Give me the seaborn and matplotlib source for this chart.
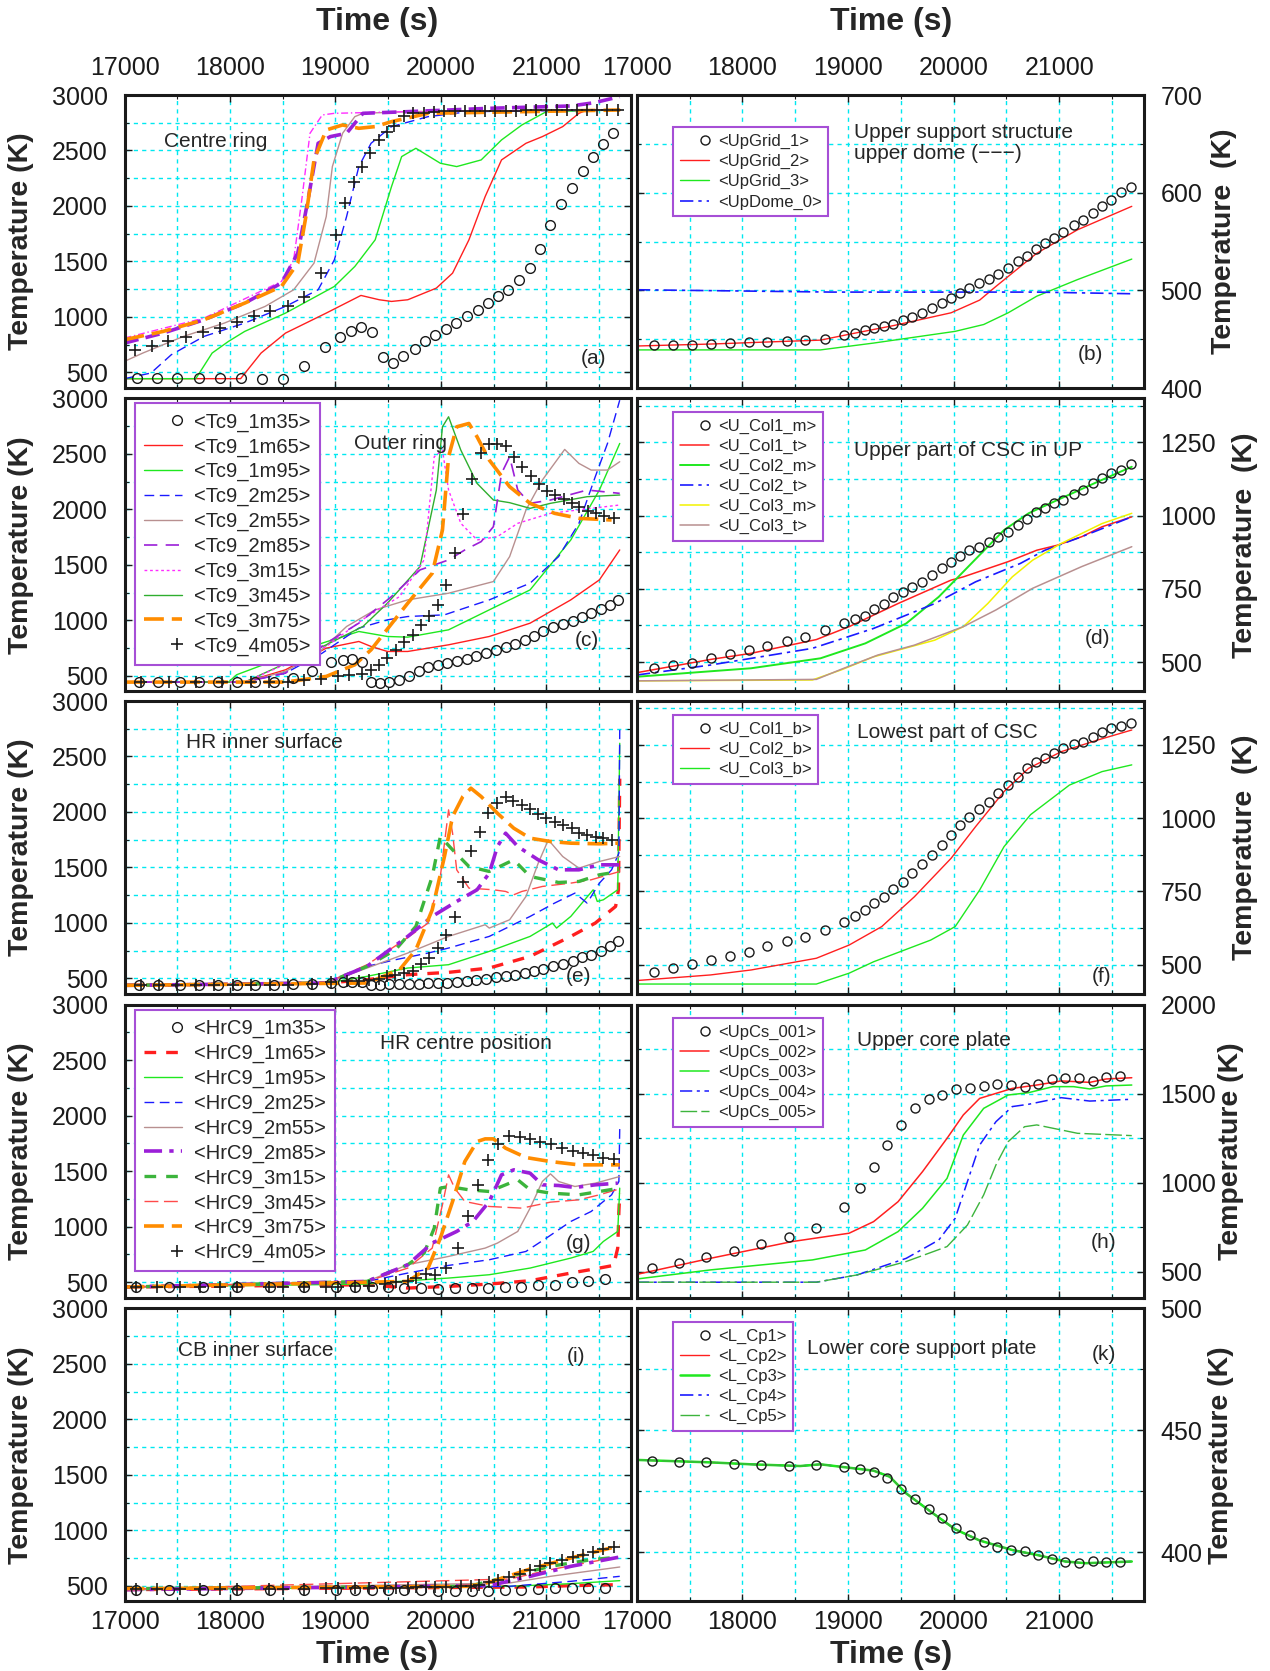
import matplotlib
matplotlib.use("Agg")
import numpy as np
import matplotlib.pyplot as plt
import seaborn as sns
from matplotlib.ticker import MultipleLocator, FixedLocator
from matplotlib.legend_handler import HandlerLine2D

sns.set_theme(style="white")
plt.rcParams['font.family'] = ['Liberation Sans', 'DejaVu Sans']
plt.rcParams['axes.unicode_minus'] = False

# ======================= DATA (time s, temperature K) =======================
XTICKS = [17000, 18000, 19000, 20000, 21000]

# ---- (a) Centre ring ----
a_1m35_t = [17116,17309,17502,17703,17907,18100,18305,18506,18699,18900,19046,19150,19247,19347,19452,19548,19645,19753,19849,19946,20050,20147,20251,20348,20444,20541,20641,20745,20842,20938,21035,21143,21239,21344,21440,21537,21633]
a_1m35_T = [450,450,450,450,450,450,444,444,561,729,819,876,909,861,639,585,651,711,786,840,891,945,1005,1065,1125,1185,1245,1329,1440,1611,1830,2016,2166,2319,2439,2556,2661]
a_1m65_t = [17000,18101,18295,18527,18913,19242,19416,19532,19686,19957,20111,20266,20420,20575,20807,20962,21155,21309,21387,21700]
a_1m65_T = [444,444,675,855,1035,1194,1155,1140,1155,1260,1395,1695,2085,2415,2565,2625,2715,2835,2865,2865]
a_1m95_t = [17000,17676,17831,17986,18140,18527,18990,19184,19377,19532,19628,19763,19995,20150,20382,20575,20768,21000,21700]
a_1m95_T = [444,444,675,780,870,1035,1275,1455,1695,2175,2445,2520,2385,2355,2415,2595,2730,2850,2865]
a_2m25_t = [17000,17251,17444,17754,18140,18527,18836,18990,19106,19222,19338,19532,19879,20266,21700]
a_2m25_T = [444,495,660,825,945,1095,1245,1515,1905,2355,2565,2715,2805,2850,2865]
a_2m55_t = [17000,17174,17560,17947,18333,18604,18797,18913,18971,19068,19184,19261,19686,21700]
a_2m55_T = [600,675,825,945,1095,1245,1485,1905,2355,2655,2805,2835,2850,2865]
a_2m85_t = [17000,17367,17754,18140,18488,18643,18740,18836,18952,19106,19261,19686,20459,21232,21450,21696]
a_2m85_T = [765,855,975,1125,1305,1575,2055,2565,2625,2655,2835,2850,2880,2901,2930,2985]
a_3m15_t = [17000,17754,18488,18604,18681,18759,18875,18990,19686,21700]
a_3m15_T = [810,990,1320,1515,2055,2655,2820,2835,2850,2865]
a_3m75_t = [17000,17367,17754,18140,18488,18643,18720,18797,18913,19068,19222,19377,19532,19879,21700]
a_3m75_T = [795,870,975,1125,1275,1485,1905,2415,2685,2730,2700,2715,2760,2835,2865]
a_4m05_t = [17097,17259,17417,17580,17742,17908,18063,18225,18380,18546,18701,18863,19010,19095,19172,19249,19327,19416,19493,19559,19648,19733,19841,19937,20034,20131,20227,20324,20420,20517,20614,20710,20807,20904,21000,21097,21194,21290,21387,21483,21580,21677]
a_4m05_T = [705,735,780,819,861,900,951,1005,1050,1101,1176,1395,1740,2025,2220,2355,2475,2595,2670,2721,2811,2835,2841,2850,2852,2855,2855,2858,2858,2860,2860,2860,2862,2862,2862,2865,2865,2865,2865,2865,2865,2865]

# ---- (b) Upper support structure ----
b_grid1_t = [17162,17340,17522,17703,17881,18063,18237,18422,18596,18778,18960,19068,19157,19249,19338,19427,19520,19609,19698,19791,19887,19976,20061,20150,20239,20332,20421,20517,20606,20691,20780,20865,20954,21039,21136,21224,21317,21406,21495,21588,21677]
b_grid1_T = [444,444,444,445,446,447,447,448,449,450,454,456,459,461,463,466,470,473,477,482,487,492,497,502,507,512,517,523,530,535,542,548,554,560,567,572,579,586,593,601,606]
b_grid2_t = [17000,17696,18469,18739,19010,19435,19976,20247,20401,20788,21174,21688]
b_grid2_T = [443,445,448,449,455,464,477,490,504,538,562,586]
b_grid3_t = [17000,18739,19242,20015,20285,20517,20788,21174,21688]
b_grid3_T = [439,439,446,458,465,477,494,511,532]
b_dome0_t = [17000,18855,20788,21688]
b_dome0_T = [500.6,498.2,498.2,496.5]

# ---- (c) Outer ring ----
c_1m35_t = [17135,17317,17522,17703,17889,18063,18237,18418,18596,18778,18960,19068,19153,19249,19338,19423,19512,19601,19698,19791,19879,19968,20061,20150,20247,20336,20432,20525,20614,20699,20795,20884,20973,21066,21155,21252,21337,21425,21514,21599,21677]
c_1m35_T = [444,444,444,444,444,444,444,444,480,540,621,645,651,621,441,435,441,465,501,546,579,600,615,630,651,675,705,729,759,789,825,861,900,939,969,999,1035,1065,1104,1140,1185]
c_1m65_t = [17000,18140,18527,18913,19222,19338,19493,19686,20073,20459,20846,21232,21503,21696]
c_1m65_T = [444,444,555,750,810,765,720,720,780,855,975,1185,1365,1635]
c_1m95_t = [17000,17986,18063,18527,18875,19222,19493,19686,20073,20459,20846,21232,21503,21696]
c_1m95_T = [444,444,510,675,795,900,855,849,915,1095,1275,1725,2175,2595]
c_2m25_t = [17000,18140,18527,18875,19222,19493,19686,20034,20459,20846,21116,21309,21464,21580,21696]
c_2m25_T = [444,444,525,705,930,1005,1035,1050,1185,1335,1575,1875,2295,2595,2985]
c_2m55_t = [17000,18140,18527,18836,19106,19377,19686,20073,20498,20652,20807,20962,21174,21309,21425,21580,21696]
c_2m55_T = [444,444,540,705,945,1095,1185,1245,1350,1575,1995,2265,2541,2415,2355,2355,2430]
c_2m85_t = [17000,18140,18527,18913,19222,19532,19802,20073,20227,20382,20498,20575,20652,20729,20846,21039,21387,21696]
c_2m85_T = [444,444,525,795,975,1215,1455,1545,1635,1710,1845,2325,2475,2175,2055,2085,2175,2145]
c_3m15_t = [17000,18140,18913,19300,19609,19841,19937,20015,20073,20189,20343,20536,20729,21039,21425,21696]
c_3m15_T = [444,444,765,1035,1215,1545,2475,2535,2175,1875,1725,1755,1875,1965,2010,2040]
c_3m45_t = [17000,18140,18913,19261,19493,19802,19957,20015,20073,20189,20343,20498,20652,20846,21039,21387,21696]
c_3m45_T = [444,444,780,945,1155,1485,2175,2745,2835,2535,2235,2085,2061,2010,2055,2115,2130]
c_3m75_t = [17000,18527,18913,19184,19338,19686,19918,20015,20073,20150,20266,20343,20459,20652,20846,21078,21309,21619]
c_3m75_T = [444,444,495,600,735,1155,1425,1815,2475,2745,2775,2655,2445,2205,2055,1965,1920,1905]
c_4m05_t = [17155,17425,17676,17928,18198,18372,18546,18701,18863,19029,19133,19249,19338,19416,19493,19570,19648,19733,19810,19887,19976,20053,20131,20208,20297,20382,20459,20536,20614,20691,20768,20853,20931,21008,21078,21163,21240,21309,21394,21472,21549,21638]
c_4m05_T = [444,444,444,444,444,444,444,459,471,495,510,516,549,600,660,735,801,870,960,1041,1140,1320,1605,1959,2271,2511,2586,2586,2571,2469,2379,2301,2229,2169,2130,2091,2055,2019,1989,1965,1941,1920]

# ---- (d) Upper part of CSC in UP ----
d_col1m_t = [17162,17340,17522,17703,17881,18063,18237,18422,18596,18778,18960,19068,19157,19249,19338,19427,19520,19609,19698,19791,19887,19976,20061,20150,20239,20332,20421,20517,20606,20691,20780,20865,20954,21039,21136,21224,21317,21406,21495,21588,21677]
d_col1m_T = [479,490,498,513,526,541,556,573,587,609,632,646,658,681,700,721,740,757,774,797,820,843,863,882,894,911,928,945,968,990,1013,1025,1042,1055,1074,1089,1110,1130,1146,1155,1178]
d_col1t_t = [17000,17696,18082,18700,19010,19474,19976,20092,20517,20788,20981,21213,21406,21688]
d_col1t_T = [464,509,530,577,621,700,780,791,843,882,899,928,962,996]
d_col2m_t = [17000,18082,18739,19164,19551,19860,20169,20478,20710,20981,21367,21688]
d_col2m_T = [450,479,513,564,632,723,837,951,1008,1053,1116,1167]
d_col2t_t = [17000,17696,18662,19242,19822,20208,20633,20865,21213,21688]
d_col2t_T = [456,490,547,615,700,774,837,882,928,996]
d_col3m_t = [17000,18662,18932,19242,19822,20092,20324,20556,20749,21019,21406,21688]
d_col3m_T = [436,439,473,518,575,621,700,791,848,905,973,1008]
d_col3t_t = [17000,18700,18932,19281,19629,20092,20401,20749,21213,21688]
d_col3t_T = [436,441,475,524,558,621,678,752,826,894]

# ---- (e) HR inner surface ----
e_1m35_t = c_1m35_t
e_1m35_T = [438,438,438,438,438,438,438,438,447,453,459,465,465,465,444,444,450,453,453,453,459,459,459,468,474,483,495,513,525,534,549,564,585,609,633,660,690,714,744,789,834]
e_1m65_t = [17000,18913,19300,19686,20073,20459,20846,21232,21464,21657,21684,21696]
e_1m65_T = [438,459,489,534,555,594,699,879,999,1149,1299,2300]
e_1m95_t = [17000,18913,19300,19686,20073,20459,20846,21058,21097,21232,21444,21483,21541,21677,21696]
e_1m95_T = [438,459,519,594,624,744,879,999,954,1059,1299,1194,1209,1299,2619]
e_2m25_t = [17000,18913,19300,19570,19879,20073,20459,20846,21078,21271,21387,21503,21619,21688,21696]
e_2m25_T = [438,465,609,669,729,774,879,1059,1179,1269,1179,1359,1479,1629,2739]
e_2m55_t = [17000,18913,19300,19686,20073,20420,20459,20652,20807,20923,21019,21155,21309,21503,21696]
e_2m55_T = [438,459,594,729,879,984,954,1029,1239,1539,1749,1599,1494,1554,1599]
e_2m85_t = [17000,18913,19300,19686,19918,20150,20343,20459,20536,20614,20729,20923,21116,21309,21503,21696]
e_2m85_T = [438,459,609,879,1059,1194,1299,1449,1689,1809,1689,1569,1479,1479,1524,1524]
e_3m15_t = [17000,18913,19300,19570,19763,19918,19995,20111,20266,20459,20691,20846,21116,21309,21503,21696]
e_3m15_T = [438,459,609,759,969,1419,1779,1659,1509,1464,1569,1419,1365,1374,1434,1464]
e_3m45_t = [17000,18913,19300,19609,19879,19995,20073,20111,20150,20266,20498,20614,20691,20768,20962,21232,21425,21696]
e_3m45_T = [438,459,624,819,999,1419,2019,1809,1479,1314,1299,1284,1254,1284,1329,1359,1389,1464]
e_3m75_t = [17000,19300,19609,19763,19918,20034,20111,20208,20285,20382,20536,20691,20846,21039,21232,21503,21677]
e_3m75_T = [438,459,579,759,1119,1599,1959,2139,2214,2139,1989,1854,1764,1734,1719,1713,1719]
e_4m05_t = [17155,17330,17500,17680,17850,18030,18200,18380,18550,18778,18960,19106,19222,19319,19416,19493,19562,19648,19733,19814,19891,19976,20053,20131,20208,20285,20374,20451,20529,20614,20683,20768,20846,20923,21000,21085,21155,21240,21309,21387,21472,21541,21619]
e_4m05_T = [438,438,438,438,438,438,438,438,438,453,468,474,480,483,495,519,528,549,570,630,684,774,894,1053,1365,1644,1824,1995,2079,2139,2103,2064,2025,1980,1944,1914,1884,1854,1815,1794,1779,1764,1749]

# ---- (f) Lowest part of CSC ----
f_col1b_t = d_col1m_t
f_col1b_T = [476,490,502,516,531,544,564,581,596,618,647,667,687,709,732,757,783,812,844,874,909,943,977,1005,1030,1056,1087,1113,1140,1170,1193,1207,1221,1239,1253,1261,1278,1295,1307,1315,1324]
f_col2b_t = [17000,17696,18082,18700,19010,19319,19629,19976,20208,20478,20710,21019,21367,21688]
f_col2b_T = [446,465,482,522,567,630,732,863,971,1091,1170,1227,1267,1301]
f_col3b_t = [17000,18700,19010,19242,19783,20015,20247,20478,20729,21097,21406,21688]
f_col3b_T = [434,434,471,510,584,630,755,903,1012,1113,1159,1182]

# ---- (g) HR centre position ----
g_1m35_t = [17108,17425,17742,18063,18380,18701,19010,19184,19346,19501,19655,19810,19976,20131,20293,20448,20606,20761,20923,21078,21240,21398,21561]
g_1m35_T = [456,456,456,456,456,456,456,456,456,456,447,447,441,447,447,447,456,456,471,477,501,513,531]
g_1m65_t = [17000,19300,19686,20073,20459,20846,21232,21503,21638,21677,21688,21696]
g_1m65_T = [456,477,447,462,483,513,582,627,651,807,1137,1300]
g_1m95_t = [17000,19300,19686,20073,20459,20846,21232,21444,21541,21677,21696]
g_1m95_T = [456,483,513,537,567,627,717,777,867,957,1347]
g_2m25_t = [17000,19300,19686,20073,20459,20807,21000,21232,21425,21619,21688,21696]
g_2m25_T = [456,507,582,651,702,777,897,1047,1137,1287,1407,1887]
g_2m55_t = [17000,19300,19686,20073,20420,20536,20729,20846,20962,21039,21116,21271,21464,21696]
g_2m55_T = [456,507,657,732,807,852,957,1167,1407,1476,1407,1362,1392,1452]
g_2m85_t = [17000,19300,19686,19918,20150,20304,20459,20575,20691,20846,20962,21116,21271,21464,21677]
g_2m85_T = [456,507,657,852,957,1047,1227,1467,1512,1482,1377,1371,1353,1377,1392]
g_3m15_t = [17000,19300,19686,19841,19937,19995,20073,20266,20459,20614,20729,20846,21039,21309,21503,21696]
g_3m15_T = [456,507,657,762,987,1347,1362,1332,1317,1377,1422,1332,1302,1287,1317,1347]
g_3m45_t = [17000,19300,19686,19918,20015,20073,20131,20227,20459,20768,21039,21309,21503,21696]
g_3m45_T = [456,507,627,807,1197,1467,1347,1227,1182,1167,1221,1242,1287,1341]
g_3m75_t = [17000,19686,19879,19995,20111,20227,20343,20420,20498,20614,20807,21039,21309,21696]
g_3m75_T = [456,507,627,897,1227,1587,1767,1791,1791,1707,1623,1587,1557,1557]
g_4m05_t = [17108,17309,17522,17715,17908,18063,18372,18507,18701,18913,19029,19184,19319,19474,19570,19686,19763,19860,19949,20053,20158,20254,20351,20448,20544,20645,20749,20846,20942,21047,21147,21252,21348,21445,21541,21638]
g_4m05_T = [456,456,456,456,456,456,456,456,456,456,456,462,468,483,498,513,537,573,561,627,807,1092,1377,1602,1743,1821,1812,1791,1767,1743,1713,1686,1668,1647,1623,1608]

# ---- (h) Upper core plate ----
h_cs1_t = [17147,17398,17657,17920,18179,18442,18701,18960,19114,19242,19369,19501,19636,19763,19887,20022,20158,20285,20409,20544,20672,20795,20931,21058,21186,21317,21445,21572]
h_cs1_T = [524,552,586,619,655,694,745,862,969,1091,1212,1325,1418,1469,1493,1527,1534,1544,1553,1549,1536,1553,1581,1587,1587,1572,1596,1600]
h_cs2_t = [17000,17696,18469,19010,19242,19474,19706,19938,20092,20247,20556,20788,21019,21290,21445,21688]
h_cs2_T = [486,576,670,717,782,894,1063,1250,1381,1474,1530,1549,1572,1564,1583,1590]
h_cs3_t = [17000,17696,18662,19164,19474,19706,19938,20092,20285,20517,20710,20942,21136,21290,21445,21688]
h_cs3_T = [460,511,567,623,726,857,1025,1268,1418,1493,1506,1540,1540,1527,1544,1549]
h_cs4_t = [17000,18701,19087,19551,19860,20015,20131,20247,20401,20556,20710,21019,21290,21688]
h_cs4_T = [442,442,483,576,679,801,1007,1212,1343,1428,1441,1478,1459,1469]
h_cs5_t = [17000,18701,19087,19551,19938,20131,20285,20401,20517,20672,20788,21174,21688]
h_cs5_T = [442,442,483,558,642,763,932,1100,1231,1315,1325,1278,1265]

# ---- (i) CB inner surface ----
i_1m35_t = g_1m35_t
i_1m35_T = [465,465,465,462,465,465,462,462,462,462,459,459,456,456,456,456,459,465,471,477,477,477,483]
i_1m65_t = [17000,20846,21232,21696]
i_1m65_T = [465,489,501,510]
i_1m95_t = [17000,20652,21232,21696]
i_1m95_T = [465,495,519,546]
i_2m25_t = [17000,20652,21232,21696]
i_2m25_T = [465,495,540,585]
i_2m55_t = [17000,20652,21039,21696]
i_2m55_T = [465,525,585,669]
i_2m85_t = [17000,20459,20846,21232,21696]
i_2m85_T = [465,501,585,675,759]
i_3m15_t = [17000,20266,20652,21039,21425,21696]
i_3m15_T = [474,495,585,675,735,759]
i_3m45_t = [17000,20652,21039,21503]
i_3m45_T = [468,561,645,729]
i_3m75_t = [17000,20266,20459,20846,21232,21696]
i_3m75_T = [474,495,531,651,750,861]
i_4m05_t = [17108,17309,17522,17715,17908,18063,18372,18507,18701,18913,19029,19184,19319,19474,19570,19686,19763,19860,19949,20053,20189,20285,20363,20459,20544,20645,20749,20846,20942,21039,21147,21252,21348,21445,21541,21638]
i_4m05_T = [474,474,474,474,474,471,471,474,474,477,477,477,480,480,483,483,486,486,489,492,495,501,510,531,549,579,606,639,675,705,735,759,780,804,831,849]

# ---- (k) Lower core support plate ----
k_cp1_t = h_cs1_t
k_cp1_T = [437.6,437.1,436.9,436.1,435.8,435.4,436.0,434.8,434.1,433.1,430.4,426.0,421.8,417.7,414.0,410.2,407.2,404.2,402.4,401.0,400.4,399.0,397.2,396.3,395.6,396.5,396.3,396.3]
k_cpline_t = [17000,17696,18082,18546,18739,18971,19242,19396,19551,19783,20015,20247,20556,20788,21058,21251,21688]
k_cpline_T = [437.9,436.9,436.1,435.4,436.1,434.9,433.5,431.0,424.2,416.7,409.5,404.9,401.0,399.0,396.3,395.6,396.3]

TC_LABELS = ['<Tc9_1m35>','<Tc9_1m65>','<Tc9_1m95>','<Tc9_2m25>','<Tc9_2m55>',
             '<Tc9_2m85>','<Tc9_3m15>','<Tc9_3m45>','<Tc9_3m75>','<Tc9_4m05>']
HR_LABELS = ['<HrC9_1m35>','<HrC9_1m65>','<HrC9_1m95>','<HrC9_2m25>','<HrC9_2m55>',
             '<HrC9_2m85>','<HrC9_3m15>','<HrC9_3m45>','<HrC9_3m75>','<HrC9_4m05>']
KEYS = ['1m35','1m65','1m95','2m25','2m55','2m85','3m15','3m45','3m75','4m05']

# ======================= STYLES =======================
RED = '#ff1f1f'; RED2 = '#ff4a4a'; GREEN = '#1fe81f'; DKGREEN = '#2fae2f'; GREEN2 = '#3cb43c'
BLUE = '#1a1aff'; BROWN = '#b89090'; PURPLE = '#9b1fd8'; MAGENTA = '#ff2cff'
ORANGE = '#ff8c00'; YELLOW = '#f2f200'; GRID = '#00e8f0'; LEGEDGE = '#a64fd6'

CIRC = dict(marker='o', linestyle='none', markersize=7, markerfacecolor='none',
            markeredgecolor='k', markeredgewidth=1.0, color='k', zorder=4)
CIRC_S = dict(CIRC, markersize=6.5)
PLUS = dict(marker='+', linestyle='none', markersize=9, markeredgecolor='k',
            markeredgewidth=1.2, color='k', zorder=4)
ORANGE_STY = dict(color=ORANGE, linewidth=2.6, linestyle=(0, (5.5, 2.2)))

STY_TC = {
    '1m35': CIRC, '1m65': dict(color=RED, linewidth=1.0), '1m95': dict(color=GREEN, linewidth=1.0),
    '2m25': dict(color=BLUE, linewidth=1.0, linestyle=(0, (7, 4))),
    '2m55': dict(color=BROWN, linewidth=1.0),
    '2m85': dict(color=PURPLE, linewidth=1.2, linestyle=(0, (8, 5))),
    '3m15': dict(color=MAGENTA, linewidth=1.0, linestyle=(0, (2, 2))),
    '3m45': dict(color=DKGREEN, linewidth=1.0), '3m75': ORANGE_STY, '4m05': PLUS,
}
STY_A = dict(STY_TC)
STY_A['2m85'] = dict(color=PURPLE, linewidth=2.6, linestyle=(0, (4, 2)))
STY_A['3m15'] = dict(color=MAGENTA, linewidth=1.0, linestyle=(0, (5, 2, 1, 2)))

STY_HR = {
    '1m35': CIRC, '1m65': dict(color=RED, linewidth=2.4, linestyle=(0, (3.5, 3))),
    '1m95': dict(color=GREEN, linewidth=1.0),
    '2m25': dict(color=BLUE, linewidth=1.0, linestyle=(0, (7, 4))),
    '2m55': dict(color=BROWN, linewidth=1.0),
    '2m85': dict(color=PURPLE, linewidth=2.6, linestyle=(0, (5, 2, 1.2, 2))),
    '3m15': dict(color=GREEN2, linewidth=2.4, linestyle=(0, (3.5, 3))),
    '3m45': dict(color=RED2, linewidth=1.0, linestyle=(0, (10, 4))),
    '3m75': ORANGE_STY, '4m05': PLUS,
}
PLOT_ORDER = ['1m65','1m95','2m25','2m55','3m45','3m15','2m85','3m75','1m35','4m05']


class RightMarker(HandlerLine2D):
    """Legend handler placing the single marker near the right end of the handle box."""
    def create_artists(self, legend, orig_handle, xdescent, ydescent, width, height,
                       fontsize, trans):
        arts = super().create_artists(legend, orig_handle, xdescent, ydescent, width,
                                      height, fontsize, trans)
        for a in arts:
            a.set_xdata(np.asarray(a.get_xdata(), dtype=float) + 0.36 * width)
        return arts


# ======================= FIGURE =======================
W, H = 1270, 1671
fig = plt.figure(figsize=(W / 100, H / 100), dpi=100)
fig.patch.set_facecolor('white')

COLS = [(124.5, 630.7), (636.9, 1143.6)]
ROWS = [(95.0, 388.0), (398.5, 691.4), (701.0, 994.0), (1004.7, 1297.7), (1308.3, 1601.3)]


def make_ax(col, row):
    x0, x1 = COLS[col]
    y0, y1 = ROWS[row]
    return fig.add_axes([x0 / W, 1 - y1 / H, (x1 - x0) / W, (y1 - y0) / H])


def draw(ax, t, T, sty, label=None):
    sns.lineplot(x=t, y=T, ax=ax, estimator=None, sort=False, legend=False,
                 label=label, **sty)
    return ax.lines[-1]


def setup(ax, col, row, ylim, ymaj, ystep):
    ax.set_facecolor('white')
    ax.set_xlim(17000, 21800)
    ax.set_ylim(*ylim)
    ax.xaxis.set_major_locator(FixedLocator(XTICKS))
    ax.xaxis.set_minor_locator(MultipleLocator(500))
    ax.yaxis.set_major_locator(FixedLocator(ymaj))
    ax.yaxis.set_minor_locator(MultipleLocator(ystep))
    ax.grid(True, which='both', color=GRID, linestyle=(0, (3, 3)), linewidth=1.0)
    ax.set_axisbelow(True)
    for s in ax.spines.values():
        s.set_visible(True)
        s.set_color('k')
        s.set_linewidth(2.2)
    ax.tick_params(which='both', direction='in', top=True, bottom=True, left=True,
                   right=True, color='k', labelsize=18, labelcolor='k')
    ax.tick_params(which='major', length=5, width=1)
    ax.tick_params(which='minor', length=3, width=0.8)
    ax.tick_params(axis='x', labelbottom=(row == 4), labeltop=(row == 0),
                   pad=(10.5 if row == 0 else 6))
    if col == 0:
        ax.tick_params(axis='y', labelleft=True, labelright=False, pad=12)
    else:
        ax.tick_params(axis='y', labelleft=False, labelright=True, pad=12)
    ax.set_xlabel('')
    ax.set_ylabel('')


def ftext(x, y, s, **kw):
    fig.text(x / W, 1 - y / H, s, **kw)


def add_legend(ax, handles, labels, x0, y0, fs, **kw):
    hmap = {h: RightMarker(numpoints=1) for h in handles
            if h.get_linestyle() in ('None', 'none', '')}
    leg = ax.legend(handles, labels, loc='upper left', bbox_to_anchor=(x0 / W, 1 - y0 / H),
                    bbox_transform=fig.transFigure, borderaxespad=0, fontsize=fs,
                    frameon=True, fancybox=False, framealpha=1, facecolor='white',
                    edgecolor=LEGEDGE, numpoints=1, handler_map=hmap, **kw)
    leg.get_frame().set_linewidth(1.5)
    leg.set_zorder(10)
    return leg


def left_panel(row, data, sty, labels=None, leg_pos=None):
    ax = make_ax(0, row)
    handles = {}
    for k in PLOT_ORDER:
        if k in data:
            t, T = data[k]
            handles[k] = draw(ax, t, T, sty[k], label=k)
    setup(ax, 0, row, (360, 3000), [500, 1000, 1500, 2000, 2500, 3000], 250)
    if labels is not None:
        add_legend(ax, [handles[k] for k in KEYS], labels, leg_pos[0], leg_pos[1], 14.5,
                   handlelength=1.9, handletextpad=0.6, labelspacing=0.28, borderpad=0.45)
    return ax


# ---- left column ----
A = {'1m35': (a_1m35_t, a_1m35_T), '1m65': (a_1m65_t, a_1m65_T), '1m95': (a_1m95_t, a_1m95_T),
     '2m25': (a_2m25_t, a_2m25_T), '2m55': (a_2m55_t, a_2m55_T), '2m85': (a_2m85_t, a_2m85_T),
     '3m15': (a_3m15_t, a_3m15_T), '3m75': (a_3m75_t, a_3m75_T), '4m05': (a_4m05_t, a_4m05_T)}
C = {'1m35': (c_1m35_t, c_1m35_T), '1m65': (c_1m65_t, c_1m65_T), '1m95': (c_1m95_t, c_1m95_T),
     '2m25': (c_2m25_t, c_2m25_T), '2m55': (c_2m55_t, c_2m55_T), '2m85': (c_2m85_t, c_2m85_T),
     '3m15': (c_3m15_t, c_3m15_T), '3m45': (c_3m45_t, c_3m45_T), '3m75': (c_3m75_t, c_3m75_T),
     '4m05': (c_4m05_t, c_4m05_T)}
E = {'1m35': (e_1m35_t, e_1m35_T), '1m65': (e_1m65_t, e_1m65_T), '1m95': (e_1m95_t, e_1m95_T),
     '2m25': (e_2m25_t, e_2m25_T), '2m55': (e_2m55_t, e_2m55_T), '2m85': (e_2m85_t, e_2m85_T),
     '3m15': (e_3m15_t, e_3m15_T), '3m45': (e_3m45_t, e_3m45_T), '3m75': (e_3m75_t, e_3m75_T),
     '4m05': (e_4m05_t, e_4m05_T)}
G = {'1m35': (g_1m35_t, g_1m35_T), '1m65': (g_1m65_t, g_1m65_T), '1m95': (g_1m95_t, g_1m95_T),
     '2m25': (g_2m25_t, g_2m25_T), '2m55': (g_2m55_t, g_2m55_T), '2m85': (g_2m85_t, g_2m85_T),
     '3m15': (g_3m15_t, g_3m15_T), '3m45': (g_3m45_t, g_3m45_T), '3m75': (g_3m75_t, g_3m75_T),
     '4m05': (g_4m05_t, g_4m05_T)}
I = {'1m35': (i_1m35_t, i_1m35_T), '1m65': (i_1m65_t, i_1m65_T), '1m95': (i_1m95_t, i_1m95_T),
     '2m25': (i_2m25_t, i_2m25_T), '2m55': (i_2m55_t, i_2m55_T), '2m85': (i_2m85_t, i_2m85_T),
     '3m15': (i_3m15_t, i_3m15_T), '3m45': (i_3m45_t, i_3m45_T), '3m75': (i_3m75_t, i_3m75_T),
     '4m05': (i_4m05_t, i_4m05_T)}

left_panel(0, A, STY_A)
left_panel(1, C, STY_TC, TC_LABELS, (134.7, 403.3))
left_panel(2, E, STY_HR)
left_panel(3, G, STY_HR, HR_LABELS, (134.7, 1010.0))
left_panel(4, I, STY_HR)

# ---- right column ----
RLEG = dict(handlelength=1.75, handletextpad=0.55, labelspacing=0.3, borderpad=0.4)
BLUE_DD = (0, (8, 3, 2, 3))

ax = make_ax(1, 0)
hs = [draw(ax, b_grid1_t, b_grid1_T, CIRC_S, 'g1'),
      draw(ax, b_grid2_t, b_grid2_T, dict(color=RED, linewidth=1.0), 'g2'),
      draw(ax, b_grid3_t, b_grid3_T, dict(color=GREEN, linewidth=1.0), 'g3'),
      draw(ax, b_dome0_t, b_dome0_T, dict(color=BLUE, linewidth=1.2, linestyle=BLUE_DD), 'd0')]
setup(ax, 1, 0, (400, 700), [400, 500, 600, 700], 50)
add_legend(ax, hs, ['<UpGrid_1>', '<UpGrid_2>', '<UpGrid_3>', '<UpDome_0>'], 672.9, 127.3, 12, **RLEG)

ax = make_ax(1, 1)
hs = [draw(ax, d_col1m_t, d_col1m_T, CIRC_S, 'c1m'),
      draw(ax, d_col1t_t, d_col1t_T, dict(color=RED, linewidth=1.1), 'c1t'),
      draw(ax, d_col2m_t, d_col2m_T, dict(color=GREEN, linewidth=1.4), 'c2m'),
      draw(ax, d_col2t_t, d_col2t_T, dict(color=BLUE, linewidth=1.2, linestyle=BLUE_DD), 'c2t'),
      draw(ax, d_col3m_t, d_col3m_T, dict(color=YELLOW, linewidth=1.1), 'c3m'),
      draw(ax, d_col3t_t, d_col3t_T, dict(color=BROWN, linewidth=1.1), 'c3t')]
setup(ax, 1, 1, (400, 1400), [500, 750, 1000, 1250], 125)
add_legend(ax, hs, ['<U_Col1_m>', '<U_Col1_t>', '<U_Col2_m>', '<U_Col2_t>', '<U_Col3_m>', '<U_Col3_t>'],
           672.9, 411.7, 12, **RLEG)

ax = make_ax(1, 2)
hs = [draw(ax, f_col1b_t, f_col1b_T, CIRC_S, 'b1'),
      draw(ax, f_col2b_t, f_col2b_T, dict(color=RED, linewidth=1.0), 'b2'),
      draw(ax, f_col3b_t, f_col3b_T, dict(color=GREEN, linewidth=1.0), 'b3')]
setup(ax, 1, 2, (400, 1400), [500, 750, 1000, 1250], 125)
add_legend(ax, hs, ['<U_Col1_b>', '<U_Col2_b>', '<U_Col3_b>'], 672.9, 715.0, 12, **RLEG)

ax = make_ax(1, 3)
hs = [draw(ax, h_cs1_t, h_cs1_T, CIRC_S, 's1'),
      draw(ax, h_cs2_t, h_cs2_T, dict(color=RED, linewidth=1.1), 's2'),
      draw(ax, h_cs3_t, h_cs3_T, dict(color=GREEN, linewidth=1.1), 's3'),
      draw(ax, h_cs4_t, h_cs4_T, dict(color=BLUE, linewidth=1.1, linestyle=BLUE_DD), 's4'),
      draw(ax, h_cs5_t, h_cs5_T, dict(color=GREEN2, linewidth=1.0, linestyle=(0, (12, 3))), 's5')]
setup(ax, 1, 3, (355, 2000), [500, 1000, 1500, 2000], 250)
add_legend(ax, hs, ['<UpCs_001>', '<UpCs_002>', '<UpCs_003>', '<UpCs_004>', '<UpCs_005>'],
           672.9, 1017.7, 12, **RLEG)

ax = make_ax(1, 4)
hs = [draw(ax, k_cpline_t, k_cpline_T, dict(color=RED, linewidth=1.0), 'p2'),
      draw(ax, k_cpline_t, k_cpline_T, dict(color=BLUE, linewidth=1.2, linestyle=BLUE_DD), 'p4'),
      draw(ax, k_cpline_t, k_cpline_T, dict(color=GREEN, linewidth=1.8), 'p3'),
      draw(ax, k_cpline_t, k_cpline_T, dict(color=GREEN2, linewidth=1.0, linestyle=(0, (14, 4))), 'p5'),
      draw(ax, k_cp1_t, k_cp1_T, CIRC_S, 'p1')]
setup(ax, 1, 4, (380, 500), [400, 450, 500], 25)
add_legend(ax, [hs[4], hs[0], hs[2], hs[1], hs[3]],
           ['<L_Cp1>', '<L_Cp2>', '<L_Cp3>', '<L_Cp4>', '<L_Cp5>'], 672.9, 1321.7, 12, **RLEG)

# ======================= TEXTS =======================
TB = dict(fontsize=23, fontweight='bold', ha='center', va='center')
ftext(377.5, 22, 'Time (s)', **TB)
ftext(891, 22, 'Time (s)', **TB)
ftext(377.5, 1655, 'Time (s)', **TB)
ftext(891, 1655, 'Time (s)', **TB)

YB = dict(fontsize=20.5, fontweight='bold', ha='center', va='center', rotation=90)
for (y0, y1) in ROWS:
    ftext(21.5, (y0 + y1) / 2, 'Temperature (K)', **YB)
ftext(1224, sum(ROWS[0]) / 2, 'Temperature  (K)', **YB)
ftext(1245, sum(ROWS[1]) / 2, 'Temperature  (K)', **YB)
ftext(1245, sum(ROWS[2]) / 2, 'Temperature  (K)', **YB)
ftext(1231, sum(ROWS[3]) / 2, 'Temperature (K)', **YB)
ftext(1221, sum(ROWS[4]) / 2, 'Temperature (K)', **YB)

AN = dict(fontsize=15, ha='left', va='center')
ftext(164.5, 141.7, 'Centre ring', **AN)
ftext(854.5, 132.7, 'Upper support structure', **AN)
ftext(854.5, 153.3, 'upper dome (\u2212\u2212\u2212)', **AN)
ftext(354.0, 443.3, 'Outer ring', **AN)
ftext(854.5, 451.0, 'Upper part of CSC in UP', **AN)
ftext(185.7, 742.7, 'HR inner surface', **AN)
ftext(857.3, 732.7, 'Lowest part of CSC', **AN)
ftext(379.6, 1043.3, 'HR centre position', **AN)
ftext(857.3, 1041.0, 'Upper core plate', **AN)
ftext(177.6, 1351.0, 'CB inner surface', **AN)
ftext(806.7, 1348.3, 'Lower core support plate', **AN)

PL = dict(fontsize=15, ha='center', va='center')
for s, x, y in [('(a)', 593, 358), ('(b)', 1090, 355), ('(c)', 586.5, 640), ('(d)', 1097.3, 638),
                ('(e)', 578.8, 976.7), ('(f)', 1101.4, 976), ('(g)', 578.8, 1243.3),
                ('(h)', 1103.5, 1242.3), ('(i)', 575.5, 1356.7), ('(k)', 1103.5, 1355)]:
    ftext(x, y, s, **PL)

fig.savefig('out.png', dpi=100, facecolor='white')
